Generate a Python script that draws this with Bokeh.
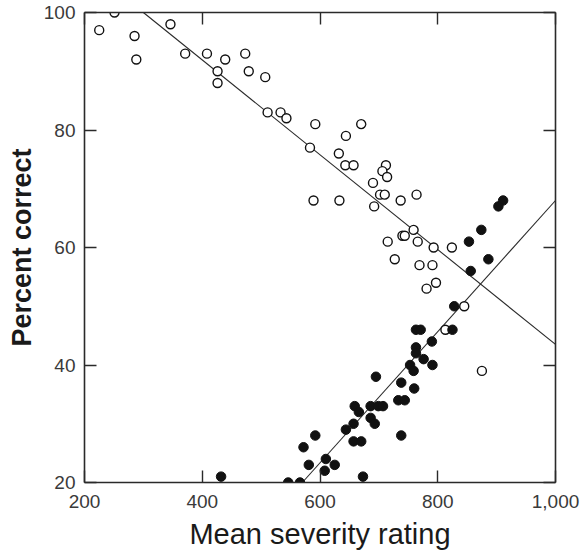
from bokeh.plotting import figure
from bokeh.models import Range1d, FixedTicker, LinearAxis, NumeralTickFormatter
from bokeh.embed import file_html
from bokeh.resources import INLINE

# ---- data ----
open_x = [225, 251, 285, 288, 346, 371, 408, 439, 426, 426, 473, 479, 507, 511, 533,
          543, 592, 583, 589, 633, 670, 644, 632, 643, 657, 712, 706, 714, 690, 702,
          710, 737, 692, 764, 759, 740, 744, 715, 766, 793, 824, 727, 769, 791, 797,
          781, 845, 813, 875]
open_y = [97, 100, 96, 92, 98, 93, 93, 92, 90, 88, 93, 90, 89, 83, 83,
          82, 81, 77, 68, 68, 81, 79, 76, 74, 74, 74, 73, 72, 71, 69,
          69, 68, 67, 69, 63, 62, 62, 61, 61, 60, 60, 58, 57, 57, 54,
          53, 50, 46, 39]

filled_x = [911, 903, 874, 853, 886, 856, 828, 763, 771, 825, 790, 763, 763, 776, 791,
            753, 759, 695, 738, 760, 733, 744, 659, 666, 686, 699, 707, 686, 693, 657,
            644, 657, 670, 738, 592, 572, 610, 581, 625, 608, 432, 673, 546, 566]
filled_y = [68, 67, 63, 61, 58, 56, 50, 46, 46, 46, 44, 43, 42, 41, 40,
            40, 39, 38, 37, 36, 34, 34, 33, 32, 33, 33, 33, 31, 30, 30,
            29, 27, 27, 28, 28, 26, 24, 23, 23, 22, 21, 21, 20, 20]

open_fit_x = [300, 1000]
open_fit_y = [100, 43.5]
filled_fit_x = [570, 1000]
filled_fit_y = [20, 68]

x_ticks = [200, 400, 600, 800, 1000]
y_ticks = [20, 40, 60, 80, 100]

FONT = "Liberation Sans"
INK = "#2a2a2a"

p = figure(width=583, height=552, output_backend="svg", toolbar_location=None,
           x_range=Range1d(200, 1000), y_range=Range1d(20, 100),
           min_border_left=84, min_border_top=12, min_border_right=28, min_border_bottom=70,
           x_axis_label="Mean severity rating", y_axis_label="Percent correct")
p.outline_line_color = None
p.grid.visible = False
p.background_fill_color = "white"
p.border_fill_color = "white"

def style(ax, ticks, labels=True):
    ax.ticker = FixedTicker(ticks=ticks)
    ax.axis_line_color = INK
    ax.axis_line_width = 1.6
    ax.major_tick_line_color = INK
    ax.major_tick_line_width = 1.4
    ax.major_tick_in = 12
    ax.major_tick_out = 0
    ax.minor_tick_line_color = None
    if labels:
        ax.major_label_text_font = FONT
        ax.major_label_text_font_size = "19px"
        ax.major_label_text_color = "#3a3a3a"
        ax.axis_label_text_font = FONT
        ax.axis_label_text_color = "#1a1a1a"
        ax.axis_label_text_font_style = "normal"
    else:
        ax.major_label_overrides = {t: "" for t in ticks}
        ax.major_label_text_font_size = "1px"
        ax.major_label_standoff = 0

style(p.xaxis[0], x_ticks)
style(p.yaxis[0], y_ticks)
p.xaxis[0].formatter = NumeralTickFormatter(format="0,0")
p.xaxis[0].major_label_standoff = 12
p.xaxis[0].axis_label_text_font_size = "29px"
p.xaxis[0].axis_label_standoff = 7
p.yaxis[0].major_label_standoff = 9
p.yaxis[0].axis_label_text_font_size = "27px"
p.yaxis[0].axis_label_text_font_style = "bold"
p.yaxis[0].axis_label_standoff = 4

top = LinearAxis()
style(top, x_ticks, labels=False)
p.add_layout(top, "above")
right = LinearAxis()
style(right, y_ticks, labels=False)
p.add_layout(right, "right")

p.line(open_fit_x, open_fit_y, line_color=INK, line_width=1.1)
p.line(filled_fit_x, filled_fit_y, line_color=INK, line_width=1.1)

p.scatter(open_x, open_y, marker="circle", size=9, fill_color="white",
          line_color="#111111", line_width=1.4)
p.scatter(filled_x, filled_y, marker="circle", size=9.5, fill_color="#111111",
          line_color="#111111", line_width=1)

open("out.html", "w").write(file_html(p, INLINE))
